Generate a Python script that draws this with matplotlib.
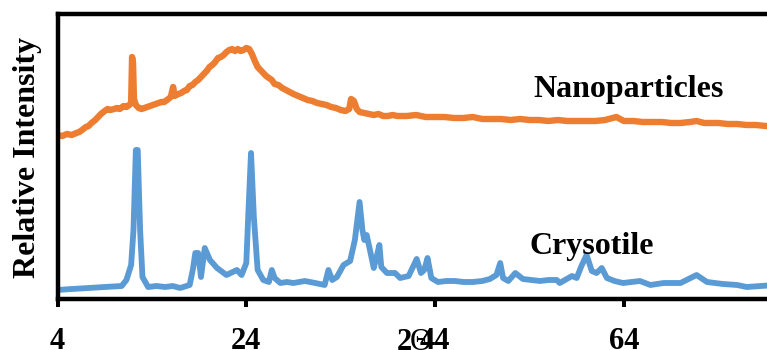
import matplotlib
matplotlib.use("Agg")
import matplotlib.pyplot as plt

# ---- data (2-theta in degrees, relative intensity in arbitrary units) ----
nano_2theta = [4.0, 4.5, 5.0, 5.5, 6.0, 6.3, 6.6, 7.0, 7.3, 7.6, 8.0, 8.3, 8.6, 9.0,
               9.3, 9.6, 10.0, 10.3, 10.6, 11.0, 11.3, 11.6, 11.8, 11.9, 12.0, 12.1,
               12.3, 12.6, 12.9, 13.2, 13.5, 13.8, 14.1, 14.4, 14.7, 15.0, 15.3, 15.6,
               16.0, 16.25, 16.4, 16.8, 17.1, 17.4, 17.7, 18.0, 18.3, 18.6, 18.9, 19.2,
               19.5, 19.8, 20.1, 20.4, 20.7, 21.0, 21.3, 21.6, 21.9, 22.2, 22.5, 22.8,
               23.1, 23.4, 23.7, 24.0, 24.3, 24.6, 24.9, 25.2, 25.5, 25.8, 26.1, 26.4,
               26.7, 27.0, 27.4, 27.8, 28.2, 28.6, 29.0, 29.5, 30.0, 30.5, 31.0, 31.5,
               32.0, 32.5, 33.0, 33.5, 34.0, 34.5, 34.9, 35.1, 35.4, 35.7, 36.0, 36.5,
               37.0, 37.5, 38.0, 38.5, 39.0, 39.5, 40.0, 41.0, 42.0, 43.0, 44.0, 45.0,
               46.0, 47.0, 48.0, 49.0, 50.0, 51.0, 52.0, 53.0, 54.0, 55.0, 56.0, 57.0,
               58.0, 59.0, 60.0, 61.0, 62.0, 63.2, 64.0, 65.0, 66.0, 67.0, 68.0, 69.0,
               70.0, 71.0, 71.7, 72.5, 73.0, 74.0, 75.0, 76.0, 77.0, 78.0, 79.0, 80.0]
nano_int = [164, 163, 165, 164, 166, 167, 169, 172, 173, 176, 179, 182, 185, 188,
            190, 189, 190, 191, 190, 193, 192, 194, 196, 242, 236, 200,
            194, 191, 190, 191, 192, 193, 194, 195, 196, 197, 197, 199,
            202, 212, 203, 205, 206, 208, 209, 213, 214, 217, 219, 222,
            225, 228, 232, 234, 237, 241, 242, 244, 247, 249, 250, 248,
            250, 248, 249, 251, 250, 245, 238, 232, 229, 226, 223, 221,
            219, 215, 214, 211, 209, 207, 205, 203, 201, 199, 198, 196,
            195, 194, 192, 191, 189, 188, 190, 200, 198, 190, 187, 186,
            185, 184, 185, 183, 183, 184, 183, 183, 184, 182, 182, 182,
            181, 181, 182, 180, 180, 180, 179, 180, 179, 179, 178, 179,
            178, 178, 178, 178, 179, 182, 178, 178, 177, 177, 177, 176,
            176, 177, 178, 176, 176, 176, 175, 175, 174, 174, 173, 173]

cry_2theta = [4.0, 5.5, 7.3, 9.0, 10.8, 11.3, 11.8, 12.05, 12.3, 12.5, 12.75, 13.0,
              13.6, 14.5, 15.4, 16.2, 17.0, 18.0, 18.35, 18.6, 18.9, 19.2, 19.6, 20.15,
              20.9, 21.9, 23.0, 23.5, 24.0, 24.2, 24.5, 24.8, 25.2, 25.8, 26.4, 26.7,
              27.0, 27.6, 28.3, 29.0, 30.2, 31.3, 32.3, 32.7, 33.1, 33.6, 34.3, 35.0,
              35.5, 36.0, 36.3, 36.5, 36.75, 37.1, 37.5, 37.8, 38.1, 38.3, 38.9, 39.75,
              40.3, 41.2, 41.6, 42.05, 42.5, 42.85, 43.2, 43.6, 44.3, 45.2, 46.1, 47.0,
              48.0, 49.0, 49.8, 50.5, 50.9, 51.2, 51.75, 52.5, 53.3, 54.2, 55.1, 56.0,
              56.9, 57.2, 58.5, 59.0, 59.5, 60.05, 60.6, 61.1, 61.65, 62.2, 63.0, 63.9,
              65.7, 66.8, 68.2, 70.0, 71.7, 72.8, 74.5, 76.0, 77.0, 78.5, 80.0]
cry_int = [9, 10, 11, 12, 13, 19, 34, 69, 149, 149, 69, 22,
           12, 13, 12, 13, 11, 14, 30, 46, 46, 22, 51, 39,
           31, 24, 29, 24, 36, 82, 146, 82, 29, 19, 17, 29,
           21, 16, 17, 16, 18, 16, 14, 29, 19, 22, 34, 38,
           59, 97, 69, 59, 64, 49, 31, 42, 54, 32, 26, 26,
           21, 23, 31, 40, 26, 29, 41, 21, 17, 18, 18, 17,
           17, 18, 20, 24, 36, 21, 18, 26, 20, 19, 18, 19,
           19, 16, 23, 21, 33, 44, 28, 26, 31, 21, 18, 16,
           18, 14, 16, 16, 24, 17, 15, 14, 12, 13, 14]

series_labels = ["Nanoparticles", "Crysotile"]
x_ticks = [4, 24, 44, 64, 84]
x_label = ["2", "\u0398"]
y_label = "Relative Intensity"

# ---- figure ----
plt.rcParams['font.family'] = ['Liberation Serif', 'DejaVu Serif']
W, H = 767, 350
fig = plt.figure(figsize=(W / 100, H / 100), dpi=100)
px = 9.44  # pixels per degree
left, bottom_y, top_y = 57.5, 299, 14
ax = fig.add_axes([left / W, (H - bottom_y) / H, (80 * px) / W, (bottom_y - top_y) / H])

ax.plot(nano_2theta, nano_int, color='#ED7D31', lw=4.6, solid_joinstyle='round',
        solid_capstyle='round')
ax.plot(cry_2theta, cry_int, color='#5B9BD5', lw=4.2, solid_joinstyle='round',
        solid_capstyle='round')

ax.set_xlim(4, 84)
ax.set_ylim(0, 285)
ax.set_xticks(x_ticks)
ax.set_xticklabels([str(t) for t in x_ticks], fontsize=22, fontweight='bold')
ax.set_yticks([])
ax.tick_params(axis='x', direction='out', length=6, width=2.9, pad=14)
for s in ['left', 'bottom', 'top']:
    ax.spines[s].set_linewidth(3.2)
ax.spines['right'].set_visible(False)

ax.text(54.4, 202, series_labels[0], fontsize=23, fontweight='bold', ha='left', va='baseline')
ax.text(53.95, 45, series_labels[1], fontsize=23, fontweight='bold', ha='left', va='baseline')

fig.text(27.5 / W, 1 - 157 / H, y_label, rotation=90, fontsize=23, fontweight='bold',
         ha='center', va='center')
fig.text(404 / W, 1 - 328 / H, x_label[0], fontsize=22, fontweight='bold', ha='center', va='top')
fig.text(421 / W, 1 - 328 / H, x_label[1], fontsize=22, fontweight='normal', ha='center', va='top')

fig.savefig('out.png', dpi=100)
